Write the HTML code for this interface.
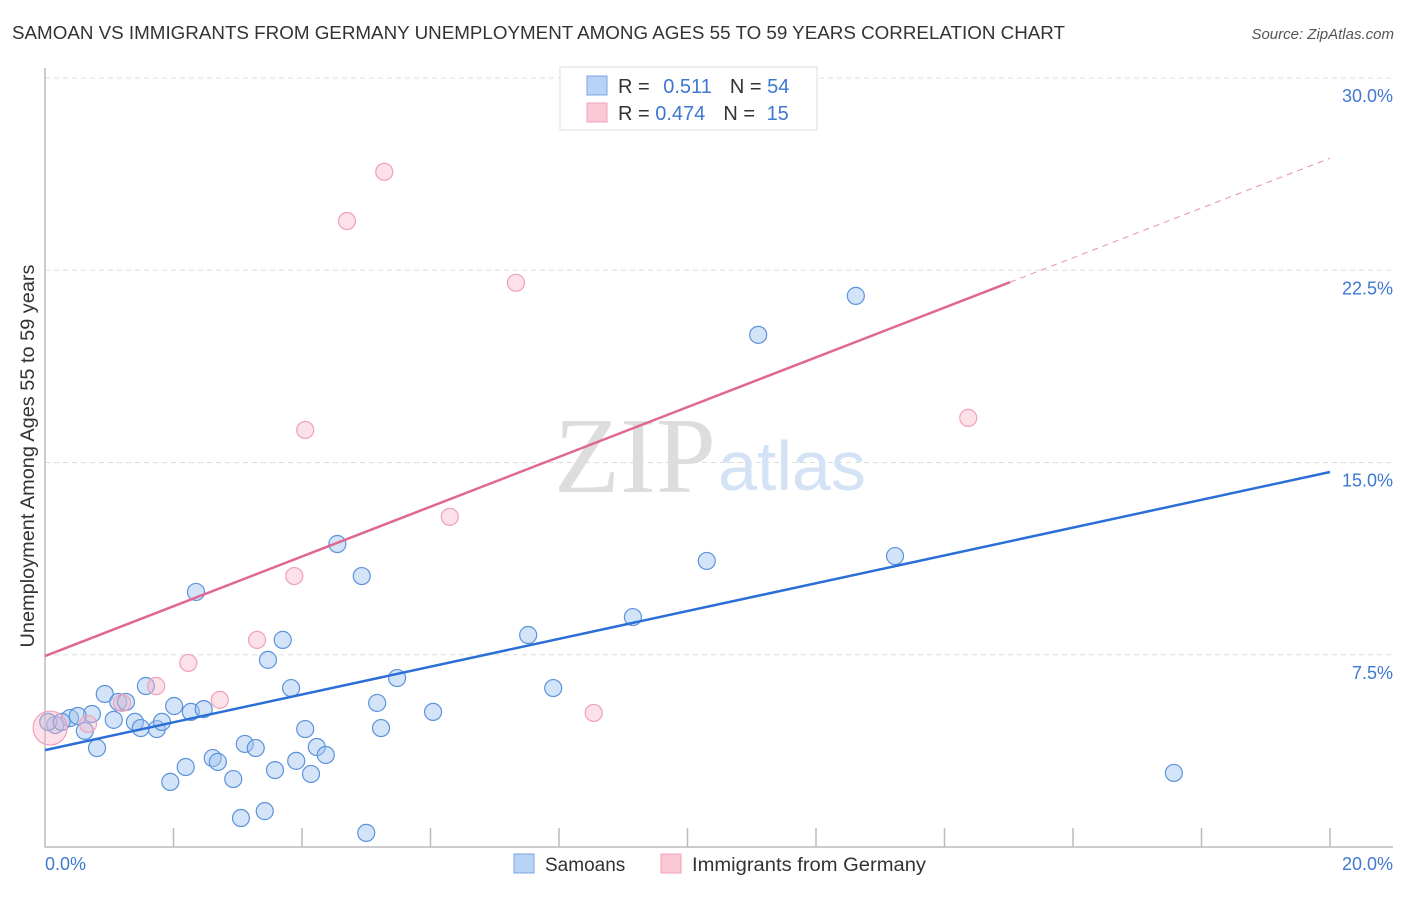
<!DOCTYPE html>
<html><head><meta charset="utf-8"><style>
body{margin:0;background:#fff;font-family:"Liberation Sans",sans-serif}
svg text{font-family:"Liberation Sans",sans-serif}
</style></head><body>
<svg width="1406" height="892">
<text x="12" y="39" font-size="18" fill="#333" textLength="1053" lengthAdjust="spacingAndGlyphs">SAMOAN VS IMMIGRANTS FROM GERMANY UNEMPLOYMENT AMONG AGES 55 TO 59 YEARS CORRELATION CHART</text>
<text x="1394" y="39" font-size="15" fill="#555" text-anchor="end" font-style="italic">Source: ZipAtlas.com</text>
<g id="grid"></g>
<text x="716" y="492" font-size="108" fill="#ddd" text-anchor="end" style="font-family:'Liberation Serif',serif">ZIP</text>
<text x="718" y="490" font-size="70" fill="#d4e2f5">atlas</text>
<g id="marks"></g>
<text transform="translate(34,456) rotate(-90)" font-size="19" fill="#333" text-anchor="middle" textLength="383" lengthAdjust="spacingAndGlyphs">Unemployment Among Ages 55 to 59 years</text>
<text x="45" y="870" font-size="18" fill="#3f78d0">0.0%</text>
<text x="1393" y="870" font-size="18" fill="#3f78d0" text-anchor="end">20.0%</text>
<g>
<rect x="560" y="67" width="257" height="63" fill="#fff" stroke="#ddd"/>
<rect x="587" y="76" width="20" height="19" fill="#b8d3f5" stroke="#7aa5e0"/>
<rect x="587" y="103" width="20" height="19" fill="#fbc8d6" stroke="#f0a0b8"/>
<text x="618" y="93" font-size="20" fill="#333">R = <tspan fill="#3f78d0" dx="8">0.511</tspan><tspan dx="18" fill="#333">N = </tspan><tspan fill="#3f78d0">54</tspan></text>
<text x="618" y="120" font-size="20" fill="#333">R = <tspan fill="#3f78d0">0.474</tspan><tspan dx="18" fill="#333">N = </tspan><tspan fill="#3f78d0" dx="6">15</tspan></text>
</g>
<g>
<rect x="514" y="854" width="20" height="19" fill="#b8d3f5" stroke="#7aa5e0"/>
<text x="545" y="871" font-size="19" fill="#333">Samoans</text>
<rect x="661" y="854" width="20" height="19" fill="#fbc8d6" stroke="#f0a0b8"/>
<text x="692" y="871" font-size="19" fill="#333" textLength="234" lengthAdjust="spacingAndGlyphs">Immigrants from Germany</text>
</g>
</svg>
<script>
const yTicks=[7.5,15,22.5,30];
const yTickLabels=["7.5%","15.0%","22.5%","30.0%"];
const xTicks=[0,2,4,6,8,10,12,14,16,18,20];
const blueX=[0.16,0.39,0.73,0.93,0.62,0.81,1.07,1.14,1.26,1.40,1.49,1.57,1.74,1.82,1.95,2.01,2.19,2.27,2.35,2.47,2.61,2.69,2.93,3.05,3.11,3.28,3.42,3.47,3.58,3.70,3.83,3.91,4.05,4.14,4.23,4.37,4.55,4.93,5.00,5.17,5.23,5.48,6.04,7.52,7.91,9.15,10.30,11.10,12.62,13.23,17.57,0.05,0.26,0.51];
const blueY=[4.76,5.03,5.19,5.97,4.53,3.86,4.96,5.66,5.66,4.88,4.64,6.28,4.60,4.88,2.54,5.50,3.12,5.27,9.95,5.38,3.47,3.32,2.65,1.13,4.02,3.86,1.40,7.30,3.00,8.08,6.20,3.36,4.60,2.85,3.90,3.59,11.82,10.57,0.55,5.62,4.64,6.59,5.27,8.27,6.20,8.97,11.16,19.98,21.50,11.35,2.89,4.88,4.88,5.11];
const pinkX=[0.08,0.67,1.20,1.73,2.23,2.72,3.30,3.88,4.05,4.70,5.28,6.30,7.33,8.54,14.37];
const pinkY=[4.64,4.80,5.62,6.28,7.18,5.74,8.08,10.57,16.27,24.42,26.34,12.88,22.01,5.23,16.74];
const blueLine=[3.78,14.63];
const pinkLine=[7.45,0.971];
const NS="http://www.w3.org/2000/svg";
const X=v=>45+v/20*1285, Y=v=>847-v/30*769;
function mk(t,a,p){const e=document.createElementNS(NS,t);for(const k in a)e.setAttribute(k,a[k]);p.appendChild(e);return e;}
const g=document.getElementById('grid'),m=document.getElementById('marks');
yTicks.forEach((t,i)=>{
 const l=mk('line',{x1:45,x2:1393,y1:Y(t),y2:Y(t),stroke:'#ddd','stroke-dasharray':'5,4'},g);
 
 
 const tx=mk('text',{x:1393,y:Y(t)+24,'font-size':18,fill:'#3f78d0','text-anchor':'end'},g);
 tx.textContent=yTickLabels[i];
 
 
});
const ax=mk('path',{d:'M45,68V847H1393',fill:'none',stroke:'#bbb','stroke-width':1.5},g);


xTicks.forEach(t=>{if(t===0)return;const l=mk('line',{x1:X(t),x2:X(t),y1:847,y2:828,stroke:'#bbb','stroke-width':1.5},g);
 
 });
blueX.forEach((v,i)=>{const c=mk('circle',{cx:X(v),cy:Y(blueY[i]),r:8.5,fill:'rgba(160,195,240,0.45)',stroke:'#5b93db','stroke-width':1.2},m);
 
 });
pinkX.forEach((v,i)=>{const c=mk('circle',{cx:X(v),cy:Y(pinkY[i]),r:i===0?17:8.5,fill:'rgba(248,180,200,0.4)',stroke:'#f0a0b8','stroke-width':1.2},m);
 
 });
const bl=mk('line',{x1:X(0),y1:Y(blueLine[0]),x2:X(20),y2:Y(blueLine[1]),stroke:'#2a6fd6','stroke-width':2.5},m);


const pe=15.02;
const pl=mk('line',{x1:X(0),y1:Y(pinkLine[0]),x2:X(pe),y2:Y(pinkLine[0]+pinkLine[1]*pe),stroke:'#e06890','stroke-width':2.5},m);


const pd=mk('line',{x1:X(pe),y1:Y(pinkLine[0]+pinkLine[1]*pe),x2:X(20),y2:Y(pinkLine[0]+pinkLine[1]*20),stroke:'#e890aa','stroke-width':1,'stroke-dasharray':'6,5'},m);


</script>
</body></html>
